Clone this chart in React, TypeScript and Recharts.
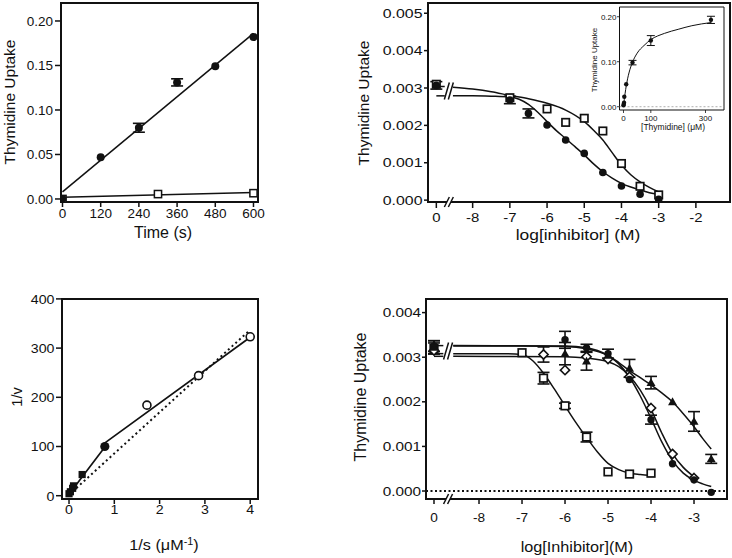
import {
  ComposedChart,
  Line,
  Scatter,
  XAxis,
  YAxis,
  ErrorBar,
  ReferenceLine,
  ReferenceArea,
  ReferenceDot,
  Label,
} from "recharts";

const FONT = '"Liberation Sans", Arial, sans-serif';
const INK = "#111";

type Pt = { x: number; y: number; err?: number };

// ---------- top left: uptake vs time ----------
const timeTicks = [0, 120, 240, 360, 480, 600];
const uptakeTicks = [0, 0.05, 0.1, 0.15, 0.2];
const timeCircles: Pt[] = [
  { x: 0, y: 0 },
  { x: 120, y: 0.047 },
  { x: 240, y: 0.08, err: 0.005 },
  { x: 360, y: 0.131, err: 0.004 },
  { x: 480, y: 0.149 },
  { x: 600, y: 0.182 },
];
const timeSquares: Pt[] = [
  { x: 0, y: 0 },
  { x: 300, y: 0.0055 },
  { x: 600, y: 0.0065 },
];
const timeFitCircles: Pt[] = [
  { x: 0, y: 0.008 },
  { x: 600, y: 0.186 },
];
const timeFitSquares: Pt[] = [
  { x: 0, y: 0.0018 },
  { x: 600, y: 0.0072 },
];

// ---------- top right: inhibition ----------
const ZERO_B = -8.976;
const logTicksB = [0, -8, -7, -6, -5, -4, -3, -2];
const uptakeTicksB = [0, 0.001, 0.002, 0.003, 0.004, 0.005];
const inhibBCircles: Pt[] = [
  { x: 0, y: 0.00307, err: 0.0001 },
  { x: -7, y: 0.00268, err: 0.0001 },
  { x: -6.5, y: 0.00232, err: 0.00012 },
  { x: -6, y: 0.00201 },
  { x: -5.5, y: 0.00161 },
  { x: -5, y: 0.00125 },
  { x: -4.5, y: 0.00074 },
  { x: -4, y: 0.00038 },
  { x: -3.5, y: 0.00016 },
  { x: -3, y: 0.00002 },
];
const inhibBSquares: Pt[] = [
  { x: 0, y: 0.0031 },
  { x: -7, y: 0.00274 },
  { x: -6, y: 0.00244 },
  { x: -5.5, y: 0.00208 },
  { x: -5, y: 0.00219 },
  { x: -4.5, y: 0.00185 },
  { x: -4, y: 0.00098 },
  { x: -3.5, y: 0.00037 },
  { x: -3, y: 0.00014 },
];
const stubBSquares: Pt[] = [
  { x: 0, y: 0.00304 },
  { x: -8.75, y: 0.00304 },
];
const stubBCircles: Pt[] = [
  { x: 0, y: 0.00279 },
  { x: -8.75, y: 0.00279 },
];
const fitBSquares: Pt[] = [
  { x: -8.53, y: 0.00302 }, { x: -8, y: 0.00297 }, { x: -7.5, y: 0.0029 },
  { x: -7, y: 0.0028 }, { x: -6.5, y: 0.00271 }, { x: -6, y: 0.00259 },
  { x: -5.5, y: 0.00241 }, { x: -5, y: 0.0021 }, { x: -4.75, y: 0.00187 },
  { x: -4.5, y: 0.00161 }, { x: -4.25, y: 0.00127 }, { x: -4, y: 0.00094 },
  { x: -3.75, y: 0.00068 }, { x: -3.5, y: 0.00049 }, { x: -3.25, y: 0.00034 },
  { x: -3, y: 0.00022 },
];
const fitBCircles: Pt[] = [
  { x: -8.53, y: 0.00279 }, { x: -8, y: 0.00279 }, { x: -7.5, y: 0.00278 },
  { x: -7, y: 0.00276 }, { x: -6.75, y: 0.0027 }, { x: -6.5, y: 0.00256 },
  { x: -6.25, y: 0.00235 }, { x: -6, y: 0.0021 }, { x: -5.75, y: 0.00186 },
  { x: -5.5, y: 0.00165 }, { x: -5.25, y: 0.00143 }, { x: -5, y: 0.00121 },
  { x: -4.75, y: 0.00097 }, { x: -4.5, y: 0.00076 }, { x: -4.25, y: 0.00059 },
  { x: -4, y: 0.00045 }, { x: -3.75, y: 0.00035 }, { x: -3.5, y: 0.00027 },
  { x: -3.25, y: 0.0002 }, { x: -3, y: 0.00016 },
];

// ---------- inset: saturation ----------
const thyTicks = [0, 100, 200, 300];
const insetPoints: Pt[] = [
  { x: 0, y: 0.003 },
  { x: 1, y: 0.006 },
  { x: 2, y: 0.009 },
  { x: 3, y: 0.022 },
  { x: 10, y: 0.05 },
  { x: 33, y: 0.098, err: 0.005 },
  { x: 100, y: 0.147, err: 0.011 },
  { x: 320, y: 0.193, err: 0.008 },
];
const insetFit: Pt[] = [
  { x: 0, y: 0 }, { x: 3, y: 0.016 }, { x: 6, y: 0.03 }, { x: 10, y: 0.046 },
  { x: 15, y: 0.062 }, { x: 20, y: 0.075 }, { x: 33, y: 0.099 }, { x: 50, y: 0.119 },
  { x: 75, y: 0.136 }, { x: 100, y: 0.149 }, { x: 150, y: 0.163 }, { x: 200, y: 0.172 },
  { x: 250, y: 0.18 }, { x: 320, y: 0.187 },
];

// ---------- bottom left: double reciprocal ----------
const invSTicks = [0, 1, 2, 3, 4];
const invVTicks = [0, 100, 200, 300, 400];
const lbSquares: Pt[] = [
  { x: 0, y: 4 }, { x: 0.03, y: 8 }, { x: 0.08, y: 15 }, { x: 0.1, y: 20 }, { x: 0.29, y: 43 },
];
const lbCircleFilled: Pt[] = [{ x: 0.79, y: 100 }];
const lbCirclesOpen: Pt[] = [
  { x: 1.72, y: 184 }, { x: 2.86, y: 244 }, { x: 4.0, y: 323 },
];
const lbFit: Pt[] = [
  { x: 0, y: 3 }, { x: 0.8, y: 100 }, { x: 0.8, y: 108 }, { x: 4.0, y: 322 },
];
const lbDotted: Pt[] = [
  { x: 0, y: 2 }, { x: 3.95, y: 333 },
];

// ---------- bottom right: inhibitor panel ----------
const ZERO_D = -9.047;
const logTicksD = [0, -8, -7, -6, -5, -4, -3];
const uptakeTicksD = [0, 0.001, 0.002, 0.003, 0.004];
const dSquares: Pt[] = [
  { x: 0, y: 0.0032, err: 0.00012 }, { x: -7, y: 0.0031 }, { x: -6.5, y: 0.00253, err: 0.00013 },
  { x: -6, y: 0.00191, err: 0.00006 }, { x: -5.5, y: 0.00121, err: 0.00011 },
  { x: -5, y: 0.00043 }, { x: -4.5, y: 0.00038 }, { x: -4, y: 0.0004 },
];
const dCircles: Pt[] = [
  { x: 0, y: 0.00325, err: 0.00012 }, { x: -6, y: 0.00339, err: 0.00019 },
  { x: -5.5, y: 0.00321, err: 0.00008 }, { x: -5, y: 0.00308, err: 0.0001 },
  { x: -4.5, y: 0.0025 }, { x: -4, y: 0.0016, err: 0.0001 }, { x: -3.5, y: 0.00061 },
  { x: -3, y: 0.00025 }, { x: -2.6, y: -0.00003 },
];
const dDiamonds: Pt[] = [
  { x: 0, y: 0.00315 }, { x: -6.5, y: 0.00306, err: 0.00017 }, { x: -6, y: 0.00271 },
  { x: -5.5, y: 0.00301 }, { x: -5, y: 0.00296 }, { x: -4.5, y: 0.00256 },
  { x: -4, y: 0.00186 }, { x: -3.5, y: 0.00083 }, { x: -3, y: 0.00029 },
];
const dTriangles: Pt[] = [
  { x: 0, y: 0.00322, err: 0.00015 }, { x: -6, y: 0.00308, err: 0.00025 },
  { x: -5.5, y: 0.00291, err: 0.0002 }, { x: -5, y: 0.00304 },
  { x: -4.5, y: 0.00275, err: 0.0002 }, { x: -4, y: 0.00243, err: 0.00014 },
  { x: -3.5, y: 0.002 }, { x: -3, y: 0.00156, err: 0.00022 }, { x: -2.6, y: 0.00072, err: 0.0001 },
];
const dStubs: Pt[][] = [
  [{ x: 0, y: 0.00326 }, { x: -8.83, y: 0.00326 }],
  [{ x: 0, y: 0.00308 }, { x: -8.83, y: 0.00308 }],
  [{ x: 0, y: 0.00302 }, { x: -8.83, y: 0.00302 }],
];
const dFitSquares: Pt[] = [
  { x: -8.6, y: 0.00308 }, { x: -7.5, y: 0.00308 }, { x: -7, y: 0.00306 },
  { x: -6.75, y: 0.00292 }, { x: -6.5, y: 0.00264 }, { x: -6.25, y: 0.00229 },
  { x: -6, y: 0.00191 }, { x: -5.75, y: 0.00154 }, { x: -5.5, y: 0.0012 },
  { x: -5.25, y: 0.00088 }, { x: -5, y: 0.00062 }, { x: -4.75, y: 0.00048 },
  { x: -4.5, y: 0.0004 }, { x: -4.25, y: 0.00037 }, { x: -4, y: 0.00035 },
];
const dFitCircles: Pt[] = [
  { x: -8.6, y: 0.00325 }, { x: -7, y: 0.00325 }, { x: -6, y: 0.00324 },
  { x: -5.5, y: 0.00319 }, { x: -5, y: 0.00303 }, { x: -4.75, y: 0.00285 },
  { x: -4.5, y: 0.00255 }, { x: -4.25, y: 0.00213 }, { x: -4, y: 0.00163 },
  { x: -3.75, y: 0.0011 }, { x: -3.5, y: 0.00068 }, { x: -3.25, y: 0.0004 },
  { x: -3, y: 0.00024 }, { x: -2.8, y: 0.00016 }, { x: -2.6, y: 0.0001 },
];
const dFitDiamonds: Pt[] = [
  { x: -8.6, y: 0.00302 }, { x: -6, y: 0.00301 }, { x: -5.5, y: 0.00298 },
  { x: -5, y: 0.0029 }, { x: -4.75, y: 0.00279 }, { x: -4.5, y: 0.00258 },
  { x: -4.25, y: 0.00226 }, { x: -4, y: 0.00183 }, { x: -3.75, y: 0.0013 },
  { x: -3.5, y: 0.00084 }, { x: -3.25, y: 0.00053 }, { x: -3, y: 0.00032 },
];
const dFitTriangles: Pt[] = [
  { x: -8.6, y: 0.00326 }, { x: -6, y: 0.00325 }, { x: -5.5, y: 0.00321 },
  { x: -5, y: 0.00304 }, { x: -4.75, y: 0.00288 }, { x: -4.5, y: 0.0027 },
  { x: -4.25, y: 0.00254 }, { x: -4, y: 0.00238 }, { x: -3.75, y: 0.0022 },
  { x: -3.5, y: 0.002 }, { x: -3.25, y: 0.00173 }, { x: -3, y: 0.00144 },
  { x: -2.8, y: 0.00118 }, { x: -2.6, y: 0.00094 },
];

// control ("0") sits left of the axis break
const placeB = (a: Pt[]) => a.map((d) => ({ ...d, x: d.x === 0 ? ZERO_B : d.x }));
const placeD = (a: Pt[]) => a.map((d) => ({ ...d, x: d.x === 0 ? ZERO_D : d.x }));
const withErr = (a: Pt[]) => a.filter((d) => d.err);

// ---------- drawing helpers ----------
const Mark = ({ cx, cy, kind, filled, s, sw = 1.5 }: any) => {
  if (cx == null || cy == null) return null;
  const fill = filled ? INK : "#fff";
  const w = filled ? 0 : sw;
  if (kind === "circle") return <circle cx={cx} cy={cy} r={s} fill={fill} stroke={INK} strokeWidth={w} />;
  if (kind === "square")
    return <rect x={cx - s} y={cy - s} width={2 * s} height={2 * s} fill={fill} stroke={INK} strokeWidth={w} />;
  if (kind === "diamond")
    return (
      <polygon
        points={`${cx},${cy - s} ${cx + s},${cy} ${cx},${cy + s} ${cx - s},${cy}`}
        fill={fill}
        stroke={INK}
        strokeWidth={w}
      />
    );
  return (
    <polygon
      points={`${cx},${cy - s} ${cx + s},${cy + s * 0.75} ${cx - s},${cy + s * 0.75}`}
      fill={fill}
      stroke={INK}
      strokeWidth={w}
    />
  );
};
const shape = (kind: string, filled: boolean, s: number, sw?: number) => (p: any) => (
  <Mark cx={p.cx} cy={p.cy} kind={kind} filled={filled} s={s} sw={sw} />
);
const noShape = () => <g />;

const BreakMark = ({ cx, cy, h }: any) => {
  if (cx == null) return null;
  const g = 4;
  const sl = 2.5;
  return (
    <g>
      <polygon
        points={`${cx - g / 2 - sl},${cy + h / 2} ${cx - g / 2 + sl},${cy - h / 2} ${cx + g / 2 + sl},${cy - h / 2} ${cx + g / 2 - sl},${cy + h / 2}`}
        fill="#fff"
      />
      <line x1={cx - g / 2 - sl} y1={cy + h / 2} x2={cx - g / 2 + sl} y2={cy - h / 2} stroke={INK} strokeWidth={1.5} />
      <line x1={cx + g / 2 - sl} y1={cy + h / 2} x2={cx + g / 2 + sl} y2={cy - h / 2} stroke={INK} strokeWidth={1.5} />
    </g>
  );
};

const makeTick = (axis: "x" | "y", fs: number, sx: number, fmt: (v: number) => string) => (p: any) => (
  <g transform={`translate(${p.x},${p.y})`}>
    <text
      transform={`scale(${sx},1)`}
      textAnchor={axis === "x" ? "middle" : "end"}
      dy="0.36em"
      fontSize={fs}
      fontFamily={FONT}
      fill={INK}
    >
      {fmt(p.payload.value)}
    </text>
  </g>
);

const Title = ({ x, y, fs, rotate, sx = 1, children }: any) => (
  <text
    transform={rotate ? `translate(${x},${y}) rotate(-90)` : `translate(${x},${y}) scale(${sx},1)`}
    textAnchor="middle"
    dy="0.36em"
    fontSize={fs}
    fontFamily={FONT}
    fill={INK}
  >
    {children}
  </text>
);

const margin = (ox: number, oy: number, w: number, h: number, L: number, T: number, R: number, B: number, yw: number, xh: number) => ({
  left: L - ox - yw,
  top: T - oy,
  right: ox + w - R,
  bottom: oy + h - B - xh,
});

const lineProps = { type: "monotone" as const, dataKey: "y", stroke: INK, strokeWidth: 1.5, dot: false, isAnimationActive: false };
const errProps = { dataKey: "err", direction: "y" as const, width: 6, strokeWidth: 1.6, stroke: INK };

// ---------- panels ----------
const TimeCourse = () => {
  const xd = [-4.7, 614.2];
  const yd = [-0.0034, 0.2202];
  return (
    <div style={{ position: "absolute", left: 0, top: 0 }}>
      <ComposedChart width={270} height={250} margin={margin(0, 0, 270, 250, 61, 3, 258, 202, 50, 30)}>
        <XAxis type="number" dataKey="x" domain={xd} ticks={timeTicks} allowDataOverflow height={30} axisLine={false}
          tickLine={{ stroke: INK, strokeWidth: 1.5 }} tickSize={5} tickMargin={6.5} tick={makeTick("x", 13.5, 1, String)}>
          <Label content={() => <Title x={163} y={232} fs={16}>Time (s)</Title>} />
        </XAxis>
        <YAxis type="number" dataKey="y" domain={yd} ticks={uptakeTicks} allowDataOverflow width={50} axisLine={false}
          tickLine={{ stroke: INK, strokeWidth: 1.5 }} tickSize={6} tickMargin={2} tick={makeTick("y", 13.5, 1, (v) => v.toFixed(2))}>
          <Label content={() => <Title x={9} y={102} fs={15.5} rotate>Thymidine Uptake</Title>} />
        </YAxis>
        <ReferenceArea x1={xd[0]} x2={xd[1]} y1={yd[0]} y2={yd[1]} fill="none" stroke={INK} strokeWidth={2} ifOverflow="visible" />
        <Line data={timeFitCircles} {...lineProps} type="linear" />
        <Line data={timeFitSquares} {...lineProps} type="linear" />
        <Scatter data={withErr(timeCircles)} dataKey="y" shape={noShape} isAnimationActive={false}>
          <ErrorBar {...errProps} />
        </Scatter>
        <Scatter data={timeSquares} dataKey="y" shape={shape("square", false, 3.6)} isAnimationActive={false} />
        <Scatter data={timeCircles} dataKey="y" shape={shape("circle", true, 4)} isAnimationActive={false} />
      </ComposedChart>
    </div>
  );
};

const InhibitionB = () => {
  const xd = [-9.2, -1.083];
  const yd = [-0.00005, 0.005274];
  const brk = -8.64;
  return (
    <div style={{ position: "absolute", left: 280, top: 0 }}>
      <ComposedChart width={452} height={250} margin={margin(280, 0, 452, 250, 428, 3, 730, 202, 50, 30)}>
        <XAxis type="number" dataKey="x" domain={xd} ticks={placeB(logTicksB.map((x) => ({ x, y: 0 }))).map((d) => d.x)}
          allowDataOverflow height={30} axisLine={false} tickLine={{ stroke: INK, strokeWidth: 1.5 }} tickSize={6} tickMargin={9}
          tick={makeTick("x", 13, 1.15, (v) => (v === ZERO_B ? "0" : String(v)))}>
          <Label content={() => <Title x={578 - 280} y={235} fs={14.5} sx={1.2}>log[inhibitor] (M)</Title>} />
        </XAxis>
        <YAxis type="number" dataKey="y" domain={yd} ticks={uptakeTicksB} allowDataOverflow width={50} axisLine={false}
          tickLine={{ stroke: INK, strokeWidth: 1.5 }} tickSize={4} tickMargin={1.5} tick={makeTick("y", 13, 1.22, (v) => v.toFixed(3))}>
          <Label content={() => <Title x={363 - 280} y={103} fs={15.5} rotate>Thymidine Uptake</Title>} />
        </YAxis>
        <ReferenceArea x1={xd[0]} x2={xd[1]} y1={yd[0]} y2={yd[1]} fill="none" stroke={INK} strokeWidth={2} ifOverflow="visible" />
        <Line data={placeB(stubBSquares)} {...lineProps} type="linear" />
        <Line data={placeB(stubBCircles)} {...lineProps} type="linear" />
        <Line data={fitBSquares} {...lineProps} />
        <Line data={fitBCircles} {...lineProps} />
        <ReferenceDot x={brk} y={0.00292} ifOverflow="visible" shape={(p: any) => <BreakMark cx={p.cx} cy={p.cy} h={17} />} />
        <ReferenceDot x={brk} y={yd[0]} ifOverflow="visible" shape={(p: any) => <BreakMark cx={p.cx} cy={p.cy} h={10} />} />
        <Scatter data={placeB(withErr(inhibBCircles))} dataKey="y" shape={noShape} isAnimationActive={false}>
          <ErrorBar {...errProps} />
        </Scatter>
        <Scatter data={placeB(inhibBSquares)} dataKey="y" shape={shape("square", false, 3.7, 1.7)} isAnimationActive={false} />
        <Scatter data={placeB(inhibBCircles)} dataKey="y" shape={shape("circle", true, 3.8)} isAnimationActive={false} />
      </ComposedChart>
    </div>
  );
};

const Inset = () => {
  const xd = [-14.6, 367.7];
  const yd = [-0.0073, 0.2216];
  return (
    <div style={{ position: "absolute", left: 585, top: 0 }}>
      <ComposedChart width={145} height={140} margin={margin(585, 0, 145, 140, 619.5, 7, 724, 110, 25, 15)}>
        <ReferenceArea x1={xd[0]} x2={xd[1]} y1={yd[0]} y2={yd[1]} fill="#fff" fillOpacity={1} stroke={INK} strokeWidth={1} ifOverflow="visible" />
        <XAxis type="number" dataKey="x" domain={xd} ticks={thyTicks} allowDataOverflow height={15} axisLine={false}
          tickLine={{ stroke: INK, strokeWidth: 0.8 }} tickSize={3} tickMargin={5} tick={makeTick("x", 8, 1, String)}>
          <Label content={() => <Title x={673 - 585} y={127} fs={8.5}>[Thymidine] (μM)</Title>} />
        </XAxis>
        <YAxis type="number" dataKey="y" domain={yd} ticks={uptakeTicks} allowDataOverflow width={25} axisLine={false}
          tickLine={{ stroke: INK, strokeWidth: 0.8 }} tickSize={2.5} tickMargin={0.5} tick={makeTick("y", 8, 1, (v) => v.toFixed(2))}>
          <Label content={() => <Title x={594 - 585} y={60} fs={8} rotate>Thymidine Uptake</Title>} />
        </YAxis>
        <ReferenceLine y={0} stroke="#999" strokeWidth={0.8} strokeDasharray="2 2" />
        <Line data={insetFit} {...lineProps} strokeWidth={1} />
        <Scatter data={withErr(insetPoints)} dataKey="y" shape={noShape} isAnimationActive={false}>
          <ErrorBar {...errProps} width={4} strokeWidth={1} />
        </Scatter>
        <Scatter data={insetPoints} dataKey="y" shape={shape("circle", true, 2.2)} isAnimationActive={false} />
      </ComposedChart>
    </div>
  );
};

const Reciprocal = () => {
  const xd = [-0.155, 4.172];
  const yd = [-6.7, 399.8];
  return (
    <div style={{ position: "absolute", left: 0, top: 260 }}>
      <ComposedChart width={270} height={298} margin={margin(0, 260, 270, 298, 62, 299, 258, 499, 50, 30)}>
        <XAxis type="number" dataKey="x" domain={xd} ticks={invSTicks} allowDataOverflow height={30} axisLine={false}
          tickLine={{ stroke: INK, strokeWidth: 1.5 }} tickSize={5} tickMargin={5} tick={makeTick("x", 13.5, 1.05, String)}>
          <Label
            content={() => (
              <Title x={164} y={545 - 260} fs={15} sx={1.08}>
                1/s (μM<tspan dy="-5" fontSize={10}>-1</tspan>
                <tspan dy="5">)</tspan>
              </Title>
            )}
          />
        </XAxis>
        <YAxis type="number" dataKey="y" domain={yd} ticks={invVTicks} allowDataOverflow width={50} axisLine={false}
          tickLine={{ stroke: INK, strokeWidth: 1.5 }} tickSize={6} tickMargin={1.5} tick={makeTick("y", 13.5, 1.05, String)}>
          <Label content={() => <Title x={17} y={397 - 260} fs={14.5} rotate>1/v</Title>} />
        </YAxis>
        <ReferenceArea x1={xd[0]} x2={xd[1]} y1={yd[0]} y2={yd[1]} fill="none" stroke={INK} strokeWidth={2} ifOverflow="visible" />
        <Line data={lbDotted} {...lineProps} type="linear" strokeWidth={2} strokeDasharray="2 3" />
        <Line data={lbFit} {...lineProps} type="linear" strokeWidth={1.7} />
        <Scatter data={lbSquares} dataKey="y" shape={shape("square", true, 3.6)} isAnimationActive={false} />
        <Scatter data={lbCircleFilled} dataKey="y" shape={shape("circle", true, 4.6)} isAnimationActive={false} />
        <Scatter data={lbCirclesOpen} dataKey="y" shape={shape("circle", false, 4, 1.6)} isAnimationActive={false} />
      </ComposedChart>
    </div>
  );
};

const InhibitionD = () => {
  const xd = [-9.233, -2.233];
  const yd = [-0.000179, 0.004305];
  const brk = -8.72;
  return (
    <div style={{ position: "absolute", left: 280, top: 260 }}>
      <ComposedChart width={452} height={298} margin={margin(280, 260, 452, 298, 426, 299, 727, 499, 50, 30)}>
        <XAxis type="number" dataKey="x" domain={xd} ticks={placeD(logTicksD.map((x) => ({ x, y: 0 }))).map((d) => d.x)}
          allowDataOverflow height={30} axisLine={false} tickLine={{ stroke: INK, strokeWidth: 1.5 }} tickSize={5} tickMargin={13.5}
          tick={makeTick("x", 13, 1.05, (v) => (v === ZERO_D ? "0" : String(v)))}>
          <Label content={() => <Title x={577 - 280} y={547 - 260} fs={15} sx={1.08}>log[Inhibitor](M)</Title>} />
        </XAxis>
        <YAxis type="number" dataKey="y" domain={yd} ticks={uptakeTicksD} allowDataOverflow width={50} axisLine={false}
          tickLine={{ stroke: INK, strokeWidth: 1.5 }} tickSize={4} tickMargin={1} tick={makeTick("y", 13, 1.18, (v) => v.toFixed(3))}>
          <Label content={() => <Title x={360 - 280} y={397 - 260} fs={16} rotate>Thymidine Uptake</Title>} />
        </YAxis>
        <ReferenceArea x1={xd[0]} x2={xd[1]} y1={yd[0]} y2={yd[1]} fill="none" stroke={INK} strokeWidth={2} ifOverflow="visible" />
        <ReferenceLine y={0} stroke={INK} strokeWidth={2} strokeDasharray="2 2.5" />
        {dStubs.map((s, i) => (
          <Line key={i} data={placeD(s)} {...lineProps} type="linear" />
        ))}
        <Line data={dFitSquares} {...lineProps} />
        <Line data={dFitCircles} {...lineProps} />
        <Line data={dFitDiamonds} {...lineProps} />
        <Line data={dFitTriangles} {...lineProps} />
        <ReferenceDot x={brk} y={0.00314} ifOverflow="visible" shape={(p: any) => <BreakMark cx={p.cx} cy={p.cy} h={17} />} />
        <ReferenceDot x={brk} y={yd[0]} ifOverflow="visible" shape={(p: any) => <BreakMark cx={p.cx} cy={p.cy} h={10} />} />
        {[dSquares, dCircles, dDiamonds, dTriangles].map((s, i) => (
          <Scatter key={"e" + i} data={placeD(withErr(s))} dataKey="y" shape={noShape} isAnimationActive={false}>
            <ErrorBar {...errProps} />
          </Scatter>
        ))}
        <Scatter data={placeD(dSquares)} dataKey="y" shape={shape("square", false, 3.8, 1.7)} isAnimationActive={false} />
        <Scatter data={placeD(dDiamonds)} dataKey="y" shape={shape("diamond", false, 4.6, 1.6)} isAnimationActive={false} />
        <Scatter data={placeD(dCircles)} dataKey="y" shape={shape("circle", true, 3.7)} isAnimationActive={false} />
        <Scatter data={placeD(dTriangles)} dataKey="y" shape={shape("triangle", true, 4.5)} isAnimationActive={false} />
      </ComposedChart>
    </div>
  );
};

export default function App() {
  return (
    <div style={{ position: "absolute", left: 0, top: 0, width: 732, height: 558, background: "#fff" }}>
      <TimeCourse />
      <InhibitionB />
      <Inset />
      <Reciprocal />
      <InhibitionD />
    </div>
  );
}
